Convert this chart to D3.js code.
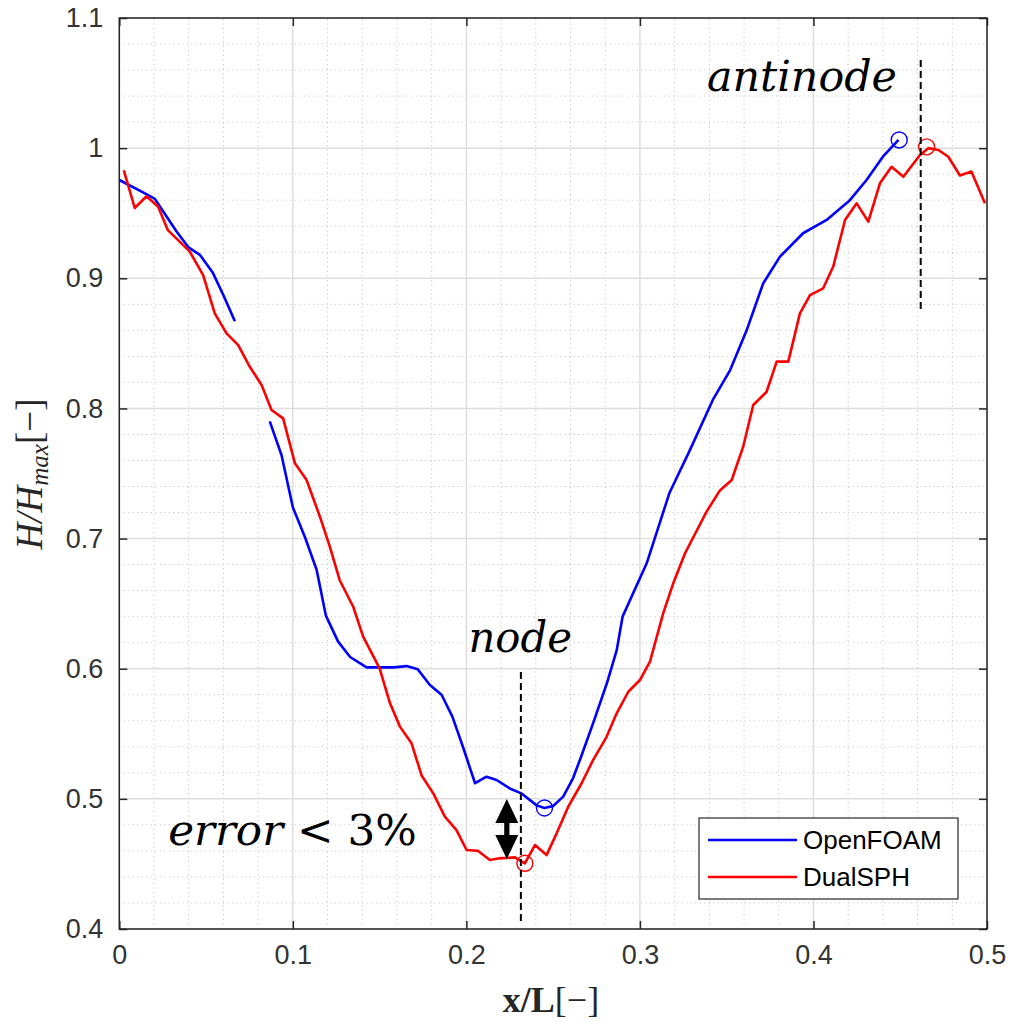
<!DOCTYPE html>
<html>
<head>
<meta charset="utf-8">
<script src="https://cdn.jsdelivr.net/npm/d3@7"></script>
<style>
  body { margin: 0; background: #fff; }
  svg { display: block; }
</style>
</head>
<body>
<svg id="chart"></svg>
<script>
// OpenFOAM curve (two pieces, gap near x/L = 0.075)
var openfoamA = [
    [0, 0.9755], [0.0137, 0.966], [0.0205, 0.961], [0.026, 0.950], [0.033, 0.936],
    [0.0397, 0.924], [0.0464, 0.918], [0.054, 0.904], [0.060, 0.887], [0.0666, 0.867]
];
var openfoamB = [
    [0.0867, 0.790], [0.0935, 0.764], [0.100, 0.724], [0.107, 0.701], [0.1137, 0.676],
    [0.119, 0.641], [0.126, 0.621], [0.133, 0.609], [0.1425, 0.601], [0.158, 0.601],
    [0.1655, 0.602], [0.172, 0.5995], [0.179, 0.5875], [0.1857, 0.580], [0.192, 0.563],
    [0.198, 0.540], [0.205, 0.512], [0.2116, 0.517], [0.2174, 0.5145], [0.225, 0.508],
    [0.232, 0.504], [0.2405, 0.495], [0.245, 0.493], [0.250, 0.4945], [0.2558, 0.5017],
    [0.2615, 0.516], [0.266, 0.532], [0.273, 0.558], [0.281, 0.589], [0.2866, 0.614],
    [0.290, 0.640], [0.3039, 0.681], [0.317, 0.735], [0.3288, 0.768], [0.342, 0.8065],
    [0.352, 0.8295], [0.3615, 0.860], [0.371, 0.896], [0.3807, 0.9166], [0.394, 0.9346],
    [0.4076, 0.9448], [0.421, 0.960], [0.4306, 0.9755], [0.440, 0.9934], [0.449, 1.0063]
];
var dualsph = [
    [0.0026, 0.983], [0.0089, 0.954], [0.0157, 0.963], [0.0224, 0.955], [0.028, 0.937],
    [0.0349, 0.928], [0.0406, 0.9205], [0.0483, 0.9025], [0.055, 0.873], [0.0618, 0.8577],
    [0.0685, 0.8487], [0.0752, 0.832], [0.082, 0.818], [0.0877, 0.7988], [0.0944, 0.7924],
    [0.1012, 0.7578], [0.1079, 0.745], [0.1156, 0.7168], [0.1213, 0.6938], [0.127, 0.668],
    [0.1348, 0.6476], [0.1405, 0.6246], [0.150, 0.6003], [0.156, 0.5734], [0.1617, 0.5555],
    [0.1684, 0.5427], [0.1742, 0.518], [0.181, 0.504], [0.1876, 0.4863], [0.1943, 0.476],
    [0.2001, 0.4607], [0.2068, 0.460], [0.2135, 0.453], [0.219, 0.4543], [0.228, 0.455],
    [0.2337, 0.4505], [0.2395, 0.4645], [0.2462, 0.4568], [0.252, 0.4735], [0.2587, 0.494],
    [0.2664, 0.512], [0.273, 0.5298], [0.2808, 0.5477], [0.2866, 0.5657], [0.2933, 0.5823],
    [0.300, 0.5913], [0.3058, 0.6054], [0.3134, 0.6425], [0.3192, 0.6656], [0.326, 0.6887],
    [0.3384, 0.7207], [0.3461, 0.737], [0.3529, 0.745], [0.3595, 0.7706], [0.3653, 0.8026],
    [0.373, 0.8128], [0.3788, 0.836], [0.3855, 0.836], [0.3922, 0.873], [0.398, 0.887],
    [0.4056, 0.8923], [0.4114, 0.909], [0.4182, 0.9448], [0.4249, 0.9576], [0.4316, 0.9435],
    [0.4383, 0.973], [0.445, 0.9857], [0.4518, 0.978], [0.4614, 0.9947], [0.4662, 1.0],
    [0.472, 0.9986], [0.4777, 0.9934], [0.4844, 0.979], [0.491, 0.982], [0.4988, 0.9576]
];

// circled points (node / antinode)
var openfoamMarks = [[0.4494, 1.0063], [0.245, 0.493]];
var dualsphMarks = [[0.4652, 1.001], [0.2337, 0.4505]];

// dashed guides: [x, yFrom, yTo]
var guides = [[0.4618, 1.0677, 0.8756], [0.2314, 0.5975, 0.403]];

// annotations: [italic part, upright part, x, y(baseline), width in x units]
var notes = [
    ["antinode", "", 0.3386, 1.0441, 0.1095],
    ["node", "", 0.2012, 0.6131, 0.0596],
    ["error", " < 3%", 0.0282, 0.4645, 0.1432]
];
// double arrow: x, top tip, bottom tip
var arrow = [0.2233, 0.4999, 0.4538];

var xTicks = [0, 0.1, 0.2, 0.3, 0.4, 0.5];
var yTicks = [0.4, 0.5, 0.6, 0.7, 0.8, 0.9, 1, 1.1];
var seriesNames = ["OpenFOAM", "DualSPH"];
var seriesColors = ["#0000ff", "#ff0000"];

var dimensions = {
    width: 1010,
    height: 1021,
    margin: { top: 18, bottom: 92, right: 23, left: 119.3 }
};

var svg = d3.select("#chart")
    .attr("width", dimensions.width)
    .attr("height", dimensions.height);

var x0 = dimensions.margin.left, x1 = dimensions.width - dimensions.margin.right;
var y0 = dimensions.height - dimensions.margin.bottom, y1 = dimensions.margin.top;

var xScale = d3.scaleLinear().domain([0, 0.5]).range([x0, x1]);
var yScale = d3.scaleLinear().domain([0.4, 1.1]).range([y0, y1]);

// minor grid (dotted)
var grid = svg.append("g");
grid.selectAll(".mx")
    .data(xScale.ticks(25).filter(d => xTicks.indexOf(+d.toFixed(2)) < 0))
    .enter().append("line")
    .attr("x1", d => xScale(d)).attr("x2", d => xScale(d))
    .attr("y1", y0).attr("y2", y1)
    .attr("stroke", "#bdbdbd").attr("stroke-width", 1)
    .attr("stroke-dasharray", "1,3.5");
grid.selectAll(".my")
    .data(yScale.ticks(35).filter(d => yTicks.indexOf(+d.toFixed(2)) < 0))
    .enter().append("line")
    .attr("x1", x0).attr("x2", x1)
    .attr("y1", d => yScale(d)).attr("y2", d => yScale(d))
    .attr("stroke", "#bdbdbd").attr("stroke-width", 1)
    .attr("stroke-dasharray", "1,3.5");

// major grid
grid.selectAll(".gx")
    .data(xTicks)
    .enter().append("line")
    .attr("x1", d => xScale(d)).attr("x2", d => xScale(d))
    .attr("y1", y0).attr("y2", y1)
    .attr("stroke", "#dedede").attr("stroke-width", 1.5);
grid.selectAll(".gy")
    .data(yTicks)
    .enter().append("line")
    .attr("x1", x0).attr("x2", x1)
    .attr("y1", d => yScale(d)).attr("y2", d => yScale(d))
    .attr("stroke", "#dedede").attr("stroke-width", 1.5);

// axes with inside ticks
var tickFont = "'Liberation Sans', Arial, sans-serif";
function styleAxis(g) {
    g.select(".domain").remove();
    g.selectAll(".tick line").attr("stroke", "#262626").attr("stroke-width", 1.5);
    g.selectAll(".tick text")
        .attr("fill", "#333")
        .style("font-family", tickFont)
        .style("font-size", "27px");
}
svg.append("g")
    .attr("transform", `translate(0, ${y0})`)
    .call(d3.axisBottom(xScale).tickValues(xTicks).tickFormat(d3.format("")).tickSize(-8).tickPadding(16))
    .call(styleAxis);
svg.append("g")
    .attr("transform", `translate(${x0}, 0)`)
    .call(d3.axisLeft(yScale).tickValues(yTicks).tickFormat(d3.format("")).tickSize(-8).tickPadding(16))
    .call(styleAxis);
svg.append("g")
    .attr("transform", `translate(0, ${y1})`)
    .call(d3.axisTop(xScale).tickValues(xTicks).tickFormat("").tickSize(-8))
    .call(styleAxis);
svg.append("g")
    .attr("transform", `translate(${x1}, 0)`)
    .call(d3.axisRight(yScale).tickValues(yTicks).tickFormat("").tickSize(-8))
    .call(styleAxis);

// box
svg.append("rect")
    .attr("x", x0).attr("y", y1)
    .attr("width", x1 - x0).attr("height", y0 - y1)
    .attr("fill", "none").attr("stroke", "#262626").attr("stroke-width", 1.5);

// lines
var line = d3.line().x(d => xScale(d[0])).y(d => yScale(d[1]));
[openfoamA, openfoamB].forEach(function(seg) {
    svg.append("path").datum(seg)
        .attr("d", line)
        .attr("fill", "none")
        .attr("stroke", seriesColors[0])
        .attr("stroke-width", 2.6)
        .attr("stroke-linejoin", "round");
});
svg.append("path").datum(dualsph)
    .attr("d", line)
    .attr("fill", "none")
    .attr("stroke", seriesColors[1])
    .attr("stroke-width", 2.6)
    .attr("stroke-linejoin", "round");

// circle markers
[[openfoamMarks, seriesColors[0]], [dualsphMarks, seriesColors[1]]].forEach(function(m) {
    svg.selectAll(null)
        .data(m[0])
        .enter().append("circle")
        .attr("cx", d => xScale(d[0]))
        .attr("cy", d => yScale(d[1]))
        .attr("r", 8)
        .attr("fill", "none")
        .attr("stroke", m[1])
        .attr("stroke-width", 1.4);
});

// dashed guides
svg.selectAll(".guide")
    .data(guides)
    .enter().append("line")
    .attr("x1", d => xScale(d[0])).attr("x2", d => xScale(d[0]))
    .attr("y1", d => yScale(d[1])).attr("y2", d => yScale(d[2]))
    .attr("stroke", "#000").attr("stroke-width", 2)
    .attr("stroke-dasharray", "7,4");

// annotations
var noteText = svg.selectAll(".note")
    .data(notes)
    .enter().append("text")
    .attr("x", d => xScale(d[2]))
    .attr("y", d => yScale(d[3]))
    .attr("textLength", d => xScale(d[2] + d[4]) - xScale(d[2]))
    .attr("lengthAdjust", "spacingAndGlyphs")
    .style("font-family", "'DejaVu Serif', serif")
    .style("font-size", "42px")
    .attr("fill", "#000");
noteText.append("tspan").style("font-style", "italic").text(d => d[0]);
noteText.filter(d => d[1]).append("tspan").style("font-style", "normal").text(d => d[1]);

// double arrow
var ax = xScale(arrow[0]), aTop = yScale(arrow[1]), aBot = yScale(arrow[2]);
var hw = 11.5, hl = 24, sw = 2.6;
svg.append("path")
    .attr("d", [
        "M", ax, aTop,
        "L", ax + hw, aTop + hl,
        "L", ax + sw, aTop + hl,
        "L", ax + sw, aBot - hl,
        "L", ax + hw, aBot - hl,
        "L", ax, aBot,
        "L", ax - hw, aBot - hl,
        "L", ax - sw, aBot - hl,
        "L", ax - sw, aTop + hl,
        "L", ax - hw, aTop + hl, "Z"
    ].join(" "))
    .attr("fill", "#000");

// axis labels
var xl = svg.append("text")
    .attr("x", 551).attr("y", 1012)
    .attr("text-anchor", "middle")
    .style("font-family", "'Liberation Serif', 'Times New Roman', serif")
    .style("font-size", "36px")
    .attr("fill", "#262626");
xl.append("tspan").style("font-weight", "bold").text("x/L");
xl.append("tspan").text("[\u2212]");

var yl = svg.append("text")
    .attr("transform", "translate(42, 474) rotate(-90)")
    .attr("text-anchor", "middle")
    .style("font-family", "'Liberation Serif', 'Times New Roman', serif")
    .style("font-size", "37px")
    .attr("fill", "#262626");
yl.append("tspan").style("font-style", "italic").text("H/H");
yl.append("tspan").style("font-style", "italic").style("font-size", "25px").attr("dy", 6).text("max");
yl.append("tspan").attr("dy", -6).text("[\u2212]");

// legend
var legend = svg.append("g").attr("transform", "translate(699, 818)");
legend.append("rect")
    .attr("width", 259).attr("height", 81)
    .attr("fill", "#fff").attr("stroke", "#262626").attr("stroke-width", 1.2);
seriesNames.forEach(function(name, i) {
    var ly = 22 + i * 37;
    legend.append("line")
        .attr("x1", 9).attr("x2", 98)
        .attr("y1", ly).attr("y2", ly)
        .attr("stroke", seriesColors[i]).attr("stroke-width", 2.6);
    legend.append("text")
        .attr("x", 104).attr("y", ly + 9)
        .style("font-family", tickFont)
        .style("font-size", "26px")
        .attr("fill", "#000")
        .text(name);
});
</script>
</body>
</html>
